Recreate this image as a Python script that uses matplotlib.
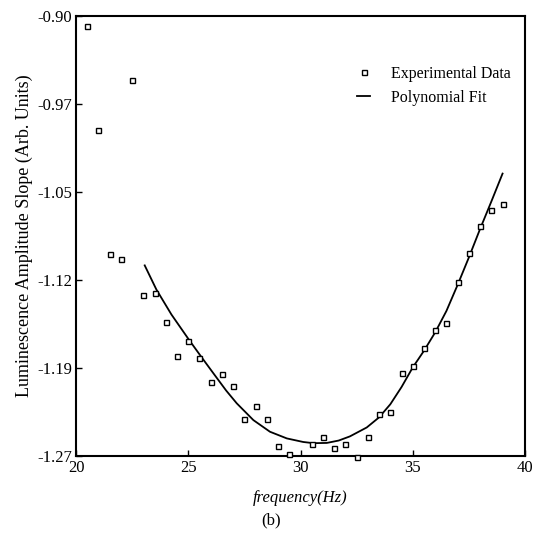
import numpy as np
import matplotlib
matplotlib.use('Agg')
import matplotlib.pyplot as plt

# Експериментальні точки
freq = [20.5, 21.0, 21.5, 22.0, 22.5, 23.0, 23.5, 24.0, 24.5, 25.0,
        25.5, 26.0, 26.5, 27.0, 27.5, 28.0, 28.5, 29.0, 29.5, 30.5,
        31.0, 31.5, 32.0, 32.5, 33.0, 33.5, 34.0, 34.5, 35.0, 35.5,
        36.0, 36.5, 37.0, 37.5, 38.0, 38.5, 39.0]
slope = [-0.908, -0.996, -1.100, -1.104, -0.954, -1.135, -1.133, -1.157, -1.186, -1.173,
         -1.188, -1.208, -1.201, -1.211, -1.239, -1.228, -1.239, -1.262, -1.268, -1.260,
         -1.254, -1.263, -1.260, -1.271, -1.254, -1.235, -1.233, -1.200, -1.194, -1.179,
         -1.164, -1.158, -1.124, -1.099, -1.077, -1.063, -1.058]

# Поліноміальна апроксимація (точки кривої з рисунка)
fit_freq = [23.06, 23.58, 24.25, 25.03, 25.58, 26.18, 26.69, 27.16, 27.90, 28.64,
            29.39, 30.12, 30.57, 31.17, 31.70, 32.20, 32.95, 33.50, 34.00, 34.50,
            35.00, 35.50, 36.00, 36.50, 37.00, 37.50, 38.00, 38.50, 39.00]
fit_slope = [-1.1097, -1.1300, -1.1510, -1.1722, -1.1866, -1.2020, -1.2150, -1.2257, -1.2398, -1.2496,
             -1.2552, -1.2582, -1.2592, -1.2590, -1.2570, -1.2535, -1.2460, -1.2375, -1.2265, -1.2120,
             -1.1955, -1.1815, -1.1660, -1.1480, -1.1260, -1.1030, -1.0790, -1.0560, -1.0325]

xticks = [20, 25, 30, 35, 40]
ytick_labels = ["-0.90", "-0.97", "-1.05", "-1.12", "-1.19", "-1.27"]
ylim = (-1.27, -0.90)

plt.rcParams['font.family'] = ['Liberation Serif', 'DejaVu Serif']

fig = plt.figure(figsize=(5.36, 5.41), dpi=100)
ax = fig.add_axes([0.1418, 0.1571, 0.8377, 0.8133])

ax.plot(freq, slope, 's', ms=3.6, mfc='white', mec='black', mew=1.0,
        clip_on=False, zorder=3, label='Experimental Data')
ax.plot(fit_freq, fit_slope, '-', color='black', lw=1.3, label='Polynomial Fit')

ax.set_xlim(20, 40)
ax.set_ylim(*ylim)
ax.set_xticks(xticks)
ax.set_yticks(np.linspace(ylim[1], ylim[0], len(ytick_labels)))
ax.set_yticklabels(ytick_labels)
ax.tick_params(direction='in', length=4, width=1, labelsize=12, pad=3)

for s in ax.spines.values():
    s.set_linewidth(1.5)

ax.set_ylabel('Luminescence Amplitude Slope (Arb. Units)', fontsize=13, labelpad=3)
ax.set_xlabel('frequency(Hz)', fontsize=12, style='italic', labelpad=10)
fig.text(0.505, 0.038, '(b)', ha='center', va='center', fontsize=12)

ax.legend(loc='upper right', bbox_to_anchor=(1.0, 0.92), frameon=False,
          handlelength=0.8, handletextpad=1.3, labelspacing=0.5, fontsize=11.5)

fig.savefig('out.png', dpi=100)
